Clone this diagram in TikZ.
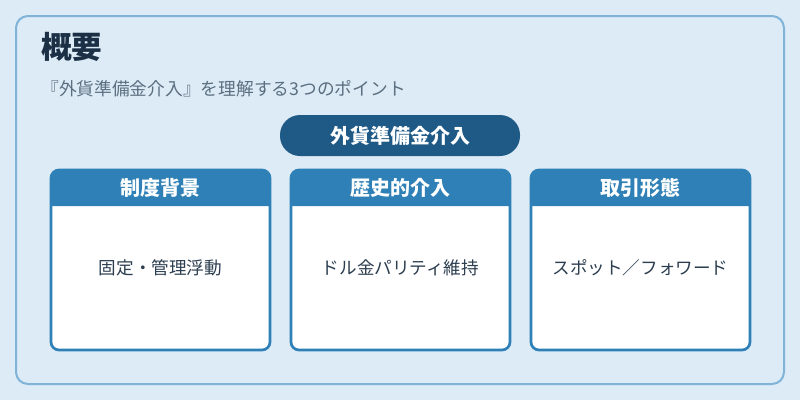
\documentclass[tikz,border=0pt]{standalone}
\usepackage{fontspec}
\setmainfont{Noto Sans CJK JP}
\tikzset{>=latex}
\definecolor{bgblue}{HTML}{DCEBF6}
\definecolor{frameblue}{HTML}{7FB3D8}
\definecolor{pillblue}{HTML}{1F5A87}
\definecolor{hdrblue}{HTML}{2E80B6}
\definecolor{titlecol}{HTML}{1B2F45}
\definecolor{subcol}{HTML}{5C6F80}
\definecolor{bodycol}{HTML}{2C3E50}
\tikzset{
  card/.style={fill=white,draw=hdrblue,line width=2pt,rounded corners=6pt},
  hdrtext/.style={text=white,font=\fontsize{15}{17}\selectfont\bfseries},
  bodytext/.style={text=bodycol,font=\fontsize{13.2}{15}\selectfont}
}

\begin{document}
\begin{tikzpicture}[x=0.75pt,y=-0.75pt]
  \useasboundingbox[fill=bgblue] (0,0) rectangle (800,400);
  % frame
  \draw[frameblue,line width=1.5pt,fill=bgblue,rounded corners=9pt] (16,16) rectangle (784,384);
  \node[anchor=west,inner sep=0,text=titlecol,font=\fontsize{23}{26}\selectfont\bfseries] (title) at (41,47) {概要};
  \node[anchor=west,inner sep=0,text=subcol,font=\fontsize{13.3}{16}\selectfont] (sub) at (41,89) {『外貨準備金介入』を理解する3つのポイント};
  % theme
  \fill[pillblue,rounded corners=15pt] (280,115) rectangle (520,156);
  \node[text=white,font=\fontsize{15}{18}\selectfont\bfseries] (theme) at (400,135.5) {外貨準備金介入};
  % cards
  \draw[card] (51,170) rectangle (270,350);
  \fill[hdrblue] (51,206) [rounded corners=6pt] -- (51,170) -- (270,170) [sharp corners] -- (270,206) -- cycle;
  \node[hdrtext] (h1) at (160.5,188) {制度背景};
  \node[bodytext] (b1) at (160.5,268) {固定・管理浮動};

  \draw[card] (291,170) rectangle (510,350);
  \fill[hdrblue] (291,206) [rounded corners=6pt] -- (291,170) -- (510,170) [sharp corners] -- (510,206) -- cycle;
  \node[hdrtext] (h2) at (400.5,188) {歴史的介入};
  \node[bodytext] (b2) at (400.5,268) {ドル金パリティ維持};

  \draw[card] (531,170) rectangle (750,350);
  \fill[hdrblue] (531,206) [rounded corners=6pt] -- (531,170) -- (750,170) [sharp corners] -- (750,206) -- cycle;
  \node[hdrtext] (h3) at (640.5,188) {取引形態};
  \node[bodytext] (b3) at (640.5,268) {スポット／フォワード};
\end{tikzpicture}
\end{document}
